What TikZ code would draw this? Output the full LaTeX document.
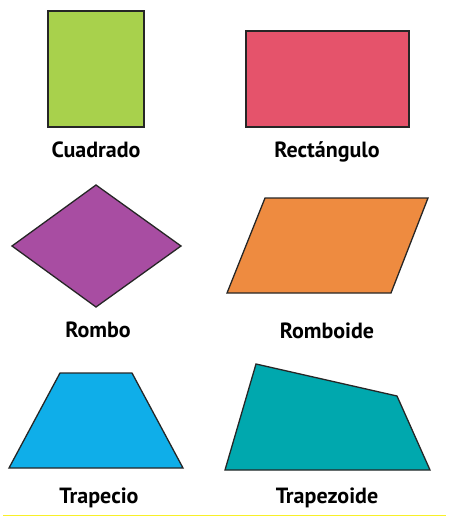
\documentclass[tikz,border=0pt]{standalone}
\usepackage{fontspec}
\setmainfont{PT Sans}
\definecolor{figGreen}{RGB}{168, 209, 76}
\definecolor{figPink}{RGB}{229, 83, 107}
\definecolor{figPurple}{RGB}{168, 77, 162}
\definecolor{figOrange}{RGB}{238, 139, 64}
\definecolor{figBlue}{RGB}{15, 174, 233}
\definecolor{figTeal}{RGB}{0, 168, 174}
\definecolor{figYellow}{RGB}{248, 240, 40}

\begin{document}
\begin{tikzpicture}[
  x=1pt, y=-1pt,
  figshape/.style={
    draw=black!85,
    line width=1.3pt,
    line join=miter
  },
  figlabel/.style={
    font=\bfseries\fontsize{22}{26}\selectfont,
    anchor=base,
    inner sep=0pt
  }
]
  \useasboundingbox (0,0) rectangle (449,519);

  % top row
  \draw[figshape,fill=figGreen] (48,11) rectangle (144,127);
  \node[figlabel] (cuadrado) at (96,157) {Cuadrado};
  \draw[figshape,fill=figPink] (246,31) rectangle (409,127);
  \node[figlabel] (rectangulo) at (327,157) {Rectángulo};

  % middle row
  \draw[figshape,fill=figPurple] (96,185) -- (181,246) -- (96,307) -- (12,246) -- cycle;
  \node[figlabel] (rombo) at (98,337) {Rombo};
  \draw[figshape,fill=figOrange] (265,198) -- (428,198) -- (391,293) -- (227,293) -- cycle;
  \node[figlabel] (romboide) at (327,338) {Romboide};

  % bottom row
  \draw[figshape,fill=figBlue] (60,373) -- (132,373) -- (183,468) -- (9,468) -- cycle;
  \node[figlabel] (trapecio) at (99,503) {Trapecio};
  \draw[figshape,fill=figTeal] (256,364) -- (397,396) -- (430,470) -- (225,470) -- cycle;
  \node[figlabel] (trapezoide) at (327,503) {Trapezoide};

  \draw[figYellow,line width=1pt] (3,515) -- (446,515);
\end{tikzpicture}
\end{document}
